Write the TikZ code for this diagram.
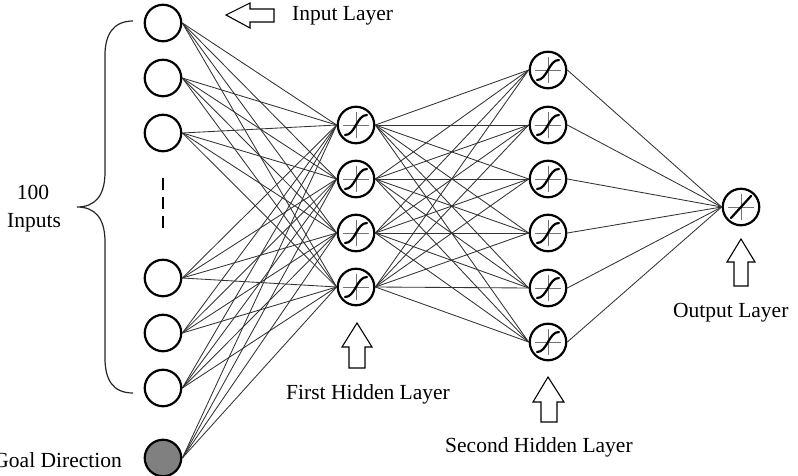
\documentclass[tikz,border=0pt]{standalone}
\usepackage{fontspec}
\setmainfont{Liberation Serif}
\begin{document}
\begin{tikzpicture}[x=1pt,y=-1pt,
  neuron/.style={circle, draw=black, line width=2.2pt, minimum size=36.5pt, inner sep=0pt, fill=white},
  goalneuron/.style={neuron, fill=gray},
  edge/.style={line width=0.85pt, draw=black!80},
  lbl/.style={font=\fontsize{21.5}{24}\selectfont, inner sep=0pt},
  blockarrow/.style={draw=black, line width=1.1pt, fill=white, line join=miter},
  axisline/.style={draw=black!55, line width=0.7pt},
  actcurve/.style={draw=black, line width=2.2pt, line cap=round},
  sigmoid/.pic={
    \draw[axisline] (-13,0) -- (13,0) (0,-13) -- (0,13);
    \draw[actcurve] (-11,10) .. controls (-1,10.5) and (1,-10.5) .. (11,-10);
  },
  linear/.pic={
    \draw[axisline] (-13,0) -- (13,0) (0,-13) -- (0,13);
    \draw[actcurve] (-10,11) -- (10,-11);
  }]
\useasboundingbox (0,0) rectangle (798,476);

% input layer
\node[neuron] (i1) at (163,23) {};
\node[neuron] (i2) at (163,78) {};
\node[neuron] (i3) at (163,133) {};
\node[neuron] (i4) at (163,278) {};
\node[neuron] (i5) at (163,333) {};
\node[neuron] (i6) at (163,388) {};
\node[goalneuron] (g) at (163,458) {};
\coordinate (dtop) at (163,178);
\coordinate (dbot) at (163,228);
\draw[line width=2.5pt, dash pattern=on 12pt off 7pt] (dtop) -- (dbot);

% first hidden layer
\node[neuron] (a1) at (356,125) {};
\node[neuron] (a2) at (356,179) {};
\node[neuron] (a3) at (356,233) {};
\node[neuron] (a4) at (356,287) {};

% second hidden layer
\node[neuron] (b1) at (548,70) {};
\node[neuron] (b2) at (548,125) {};
\node[neuron] (b3) at (548,179) {};
\node[neuron] (b4) at (548,233) {};
\node[neuron] (b5) at (548,288) {};
\node[neuron] (b6) at (548,342) {};

% output layer
\node[neuron] (o) at (741,207) {};

% weights
\foreach \s in {i1,i2,i3,i4,i5,i6,g}
  \foreach \t in {a1,a2,a3,a4}
    \draw[edge] (\s.east) -- (\t.west);
\foreach \s in {a1,a2,a3,a4}
  \foreach \t in {b1,b2,b3,b4,b5,b6}
    \draw[edge] (\s.east) -- (\t.west);
\foreach \s in {b1,b2,b3,b4,b5,b6}
  \draw[edge] (\s.east) -- (o.west);

% activation symbols
\foreach \n in {a1,a2,a3,a4,b1,b2,b3,b4,b5,b6}
  \pic at (\n) {sigmoid};
\pic at (o) {linear};

% brace grouping the inputs
\draw[line width=1.2pt, black!85]
  (133,21) .. controls (113,21) and (105,35) .. (105,55)
  -- (105,172) .. controls (105,196) and (95,207) .. (77,207)
  .. controls (95,207) and (105,218) .. (105,242)
  -- (105,358) .. controls (105,380) and (113,393) .. (133,393);

% block arrows
\draw[blockarrow] (226,15) -- (250,3) -- (250,9) -- (274,9) -- (274,22) -- (250,22) -- (250,28) -- cycle;
\draw[blockarrow] (357,323) -- (372,347) -- (365,347) -- (365,368) -- (349,368) -- (349,347) -- (342,347) -- cycle;
\draw[blockarrow] (548,377) -- (564,402) -- (557,402) -- (557,422) -- (541,422) -- (541,402) -- (533,402) -- cycle;
\draw[blockarrow] (741,239) -- (755,262) -- (748,262) -- (748,286) -- (734,286) -- (734,262) -- (727,262) -- cycle;

% labels
\node[lbl, anchor=base west] (tin) at (292,21) {Input Layer};
\node[lbl, anchor=base west] (th1) at (286,399) {First Hidden Layer};
\node[lbl, anchor=base west] (th2) at (445,452) {Second Hidden Layer};
\node[lbl, anchor=base west] (tout) at (673,317) {Output Layer};
\node[lbl, anchor=base east] (tgoal) at (122,467) {Goal Direction};
\node[lbl, anchor=base] (tn) at (33,199) {100};
\node[lbl, anchor=base] (tinp) at (34,227) {Inputs};
\end{tikzpicture}
\end{document}
